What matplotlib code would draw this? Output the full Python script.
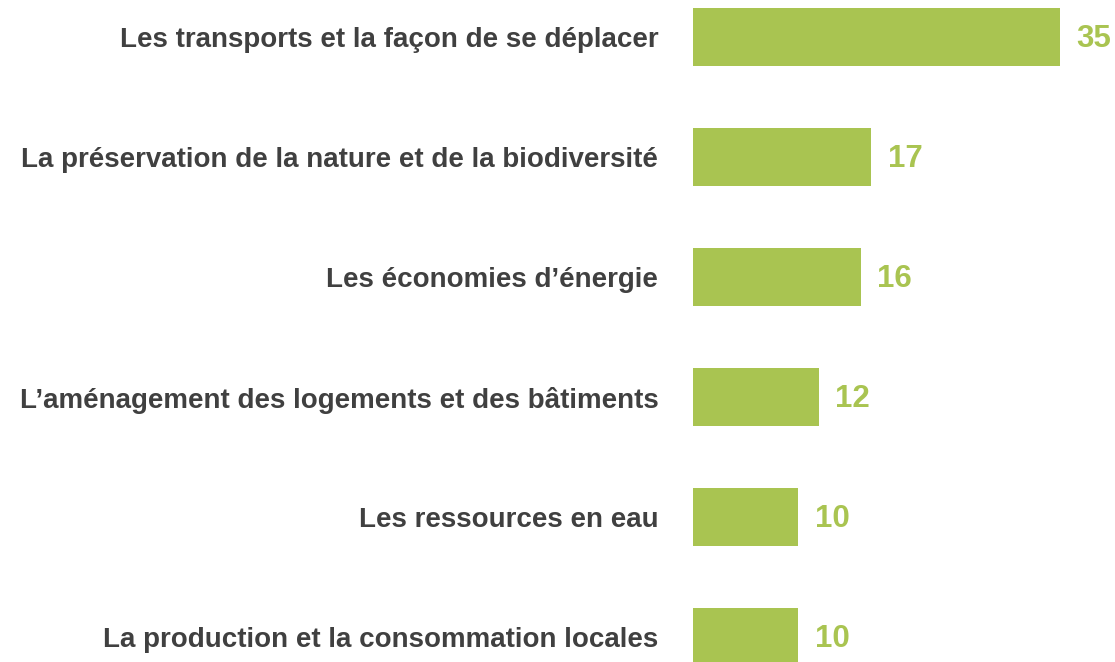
import matplotlib.pyplot as plt

categories = [
    "Les transports et la façon de se déplacer",
    "La préservation de la nature et de la biodiversité",
    "Les économies d\u2019énergie",
    "L\u2019aménagement des logements et des bâtiments",
    "Les ressources en eau",
    "La production et la consommation locales",
]
values = [35, 17, 16, 12, 10, 10]

GREEN = '#A9C451'
GREY = '#404040'


def main():
    fig = plt.figure(figsize=(11.15, 6.62), dpi=100)
    ax = fig.add_axes([693 / 1115, 0, 419 / 1115, 1])
    pos = list(range(len(values)))
    ax.barh(pos, values, height=0.49, color=GREEN)
    for p, v in zip(pos, values):
        ax.text(v + 1.6, p + 0.02, str(v), va='center', ha='left',
                fontsize=22.5, fontweight='bold', color=GREEN,
                family=['Liberation Sans', 'DejaVu Sans'])
    ax.set_xlim(0, 40)
    ax.set_ylim((662 - 37) / 120, -37 / 120)
    ax.set_yticks(pos)
    ax.set_yticklabels(categories, fontsize=20, fontweight='bold',
                       color=GREY, family=['Liberation Sans', 'DejaVu Sans'])
    ax.tick_params(axis='y', length=0, pad=25)
    ax.set_xticks([])
    for s in ax.spines.values():
        s.set_visible(False)
    fig.savefig('out.png', dpi=100)


if __name__ == '__main__':
    main()
